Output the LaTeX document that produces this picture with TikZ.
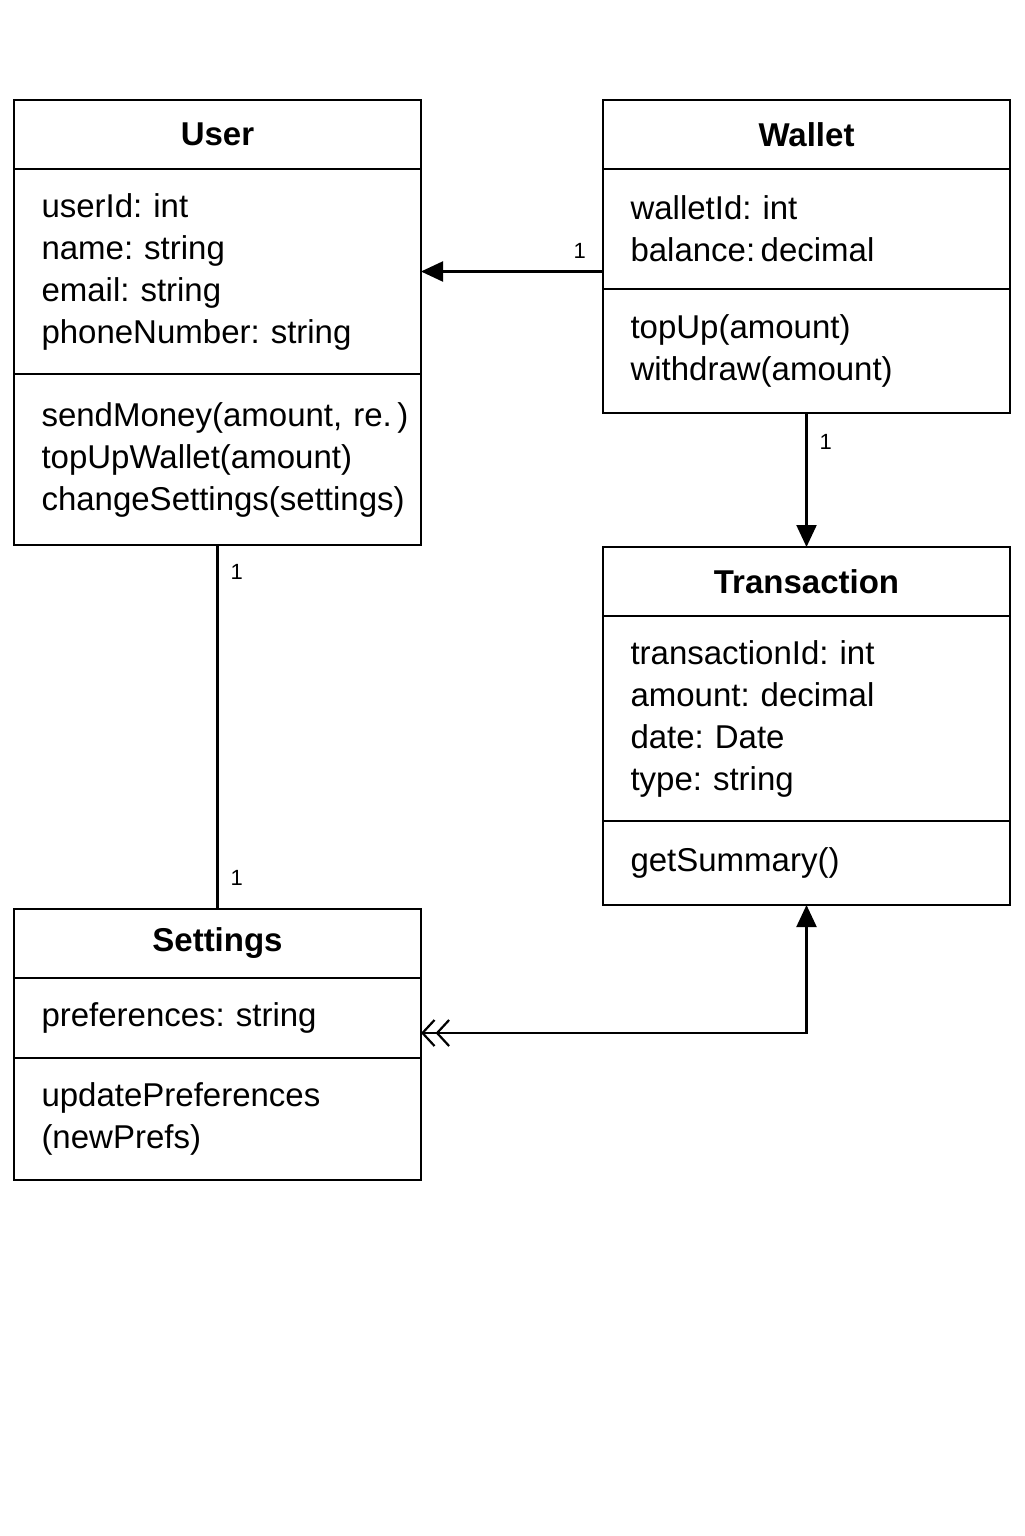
\documentclass[tikz,border=0pt]{standalone}
\usepackage{fontspec}
\setmainfont{Liberation Sans}
\usetikzlibrary{arrows.meta,positioning,calc}
\frenchspacing

\begin{document}
\begin{tikzpicture}[
            line width=1.1pt,
            title/.style={draw,outer sep=0pt,minimum width=203.5pt,minimum height=34.5pt,inner sep=0pt,
                font=\fontsize{16.5pt}{21pt}\selectfont\bfseries},
            part/.style={draw,outer sep=0pt,text width=176pt,inner xsep=13.75pt,inner ysep=0pt,
                minimum height=#1,align=left,font=\fontsize{16.5pt}{21pt}\selectfont},
            mult/.style={font=\fontsize{11pt}{13pt}\selectfont,inner sep=2pt},
            assoc/.style={-{Triangle[length=11pt,width=10pt]}},
            agg/.style={{Straight Barb[length=6pt,width=13pt]Straight Barb[length=6pt,width=13pt]}-{Triangle[length=11pt,width=10pt]}}
            ]
            \useasboundingbox (0,0) rectangle (512pt,-768pt);
            % User
            \node[title,anchor=north west] (user) at (7pt,-50pt) {User};
            \node[part=102.5pt,below=0pt of user] (userattr) {userId: int\\name: string\\email: string\\phoneNumber: string};
            \node[part=85.5pt,below=0pt of userattr] (usermeth) {sendMoney(amount,~re.\,)\\topUpWallet(amount)\\changeSettings(settings)};
            % Wallet
            \node[title,anchor=north west] (wallet) at (301.5pt,-50pt) {Wallet};
            \node[part=60pt,below=0pt of wallet] (walletattr) {walletId: int\\balance:\,decimal};
            \node[part=62pt,below=0pt of walletattr] (walletmeth) {topUp(amount)\\withdraw(amount)};
            % Transaction
            \node[title,below=67pt of walletmeth] (trans) {Transaction};
            \node[part=102.5pt,below=0pt of trans] (transattr) {transactionId: int\\amount: decimal\\date: Date\\type: string};
            \node[part=42pt,below=0pt of transattr] (transmeth) {getSummary()};
            % Settings
            \node[title,below=182pt of usermeth] (settings) {Settings};
            \node[part=40pt,below=0pt of settings] (settingsattr) {preferences: string};
            \node[part=61pt,below=0pt of settingsattr] (settingsmeth) {updatePreferences\\(newPrefs)};
            \coordinate (bend) at ($(settingsattr.east)+(0,-7.5pt)$);

            \draw[assoc] (walletattr.west |- userattr.east) -- (userattr.east)
                node[mult,pos=0,above left=4pt and 6pt] {1};
            \draw[assoc] (walletmeth.south) -- (trans.north)
                node[mult,pos=0,below right=8pt and 4pt] {1};
            \draw (usermeth.south) -- (settings.north)
                node[mult,pos=0,below right=7pt and 4pt] {1}
                node[mult,pos=1,above right=9pt and 4pt] {1};
            \draw[agg] (bend) -- (bend -| transmeth.south) -- (transmeth.south);
        \end{tikzpicture}
\end{document}
